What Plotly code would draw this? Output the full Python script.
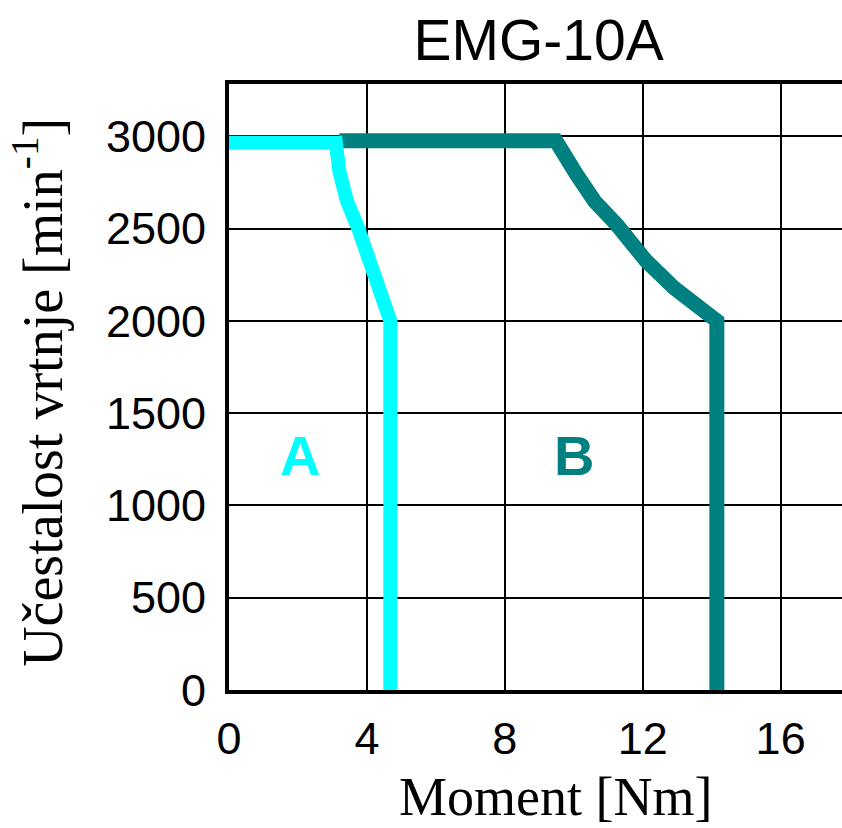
import plotly.graph_objects as go

# Curve A (cyan)
a_torque = [0, 3.1, 3.2, 3.42, 3.75, 4.08, 4.35, 4.68, 4.68]
a_speed = [2965, 2965, 2810, 2649, 2500, 2324, 2180, 2000, 0]
# Curve B (teal)
b_torque = [3.2, 9.48, 10.08, 10.6, 11.26, 12.1, 12.9, 14.15, 14.15]
b_speed = [2975, 2975, 2793, 2649, 2518, 2324, 2180, 2000, 0]

x_ticks = [0, 4, 8, 12, 16]
y_ticks = [0, 500, 1000, 1500, 2000, 2500, 3000]

title = "EMG-10A"
x_title = "Moment [Nm]"
y_title = "Učestalost vrtnje [min<sup>-1</sup>]"
label_a = ("A", 2.06, 1269)
label_b = ("B", 10.0, 1269)

CYAN = "#00FFFF"
TEAL = "#008080"
SANS = "Liberation Sans, Arial, sans-serif"
SERIF = "Liberation Serif, Times New Roman, serif"

fig = go.Figure()
fig.add_trace(go.Scatter(x=b_torque, y=b_speed, mode="lines",
                         line=dict(color=TEAL, width=15), showlegend=False))
fig.add_trace(go.Scatter(x=a_torque, y=a_speed, mode="lines",
                         line=dict(color=CYAN, width=14), showlegend=False))

for txt, xv, yv, col in [(label_a[0], label_a[1], label_a[2], CYAN),
                         (label_b[0], label_b[1], label_b[2], TEAL)]:
    fig.add_annotation(x=xv, y=yv, text=f"<b>{txt}</b>", showarrow=False,
                       xanchor="center", yanchor="middle",
                       font=dict(family=SANS, size=56, color=col))

fig.add_annotation(xref="paper", yref="paper", x=0.532, y=-0.176, text=x_title,
                   showarrow=False, xanchor="center", yanchor="middle",
                   font=dict(family=SERIF, size=54, color="black"))
fig.add_annotation(xref="paper", yref="paper", x=-0.31, y=0.492, text=y_title,
                   textangle=-90, showarrow=False, xanchor="center", yanchor="middle",
                   font=dict(family=SERIF, size=56, color="black"))

fig.update_layout(
    width=842, height=828,
    margin=dict(l=229, r=0, t=84, b=138),
    paper_bgcolor="white", plot_bgcolor="white",
    title=dict(text=title, x=0.505, xref="paper", xanchor="center",
               y=1 - 40 / 828, yref="container", yanchor="middle",
               font=dict(family=SANS, size=57, color="black")),
    xaxis=dict(range=[0, 17.78], tickvals=x_ticks, ticks="",
               showgrid=True, gridcolor="black", gridwidth=1.5,
               showline=True, linecolor="black", linewidth=4, mirror=True,
               zeroline=False, ticklabelstandoff=6,
               tickfont=dict(family=SANS, size=45, color="black")),
    yaxis=dict(range=[0, 3283], tickvals=y_ticks, ticks="",
               showgrid=True, gridcolor="black", gridwidth=1.5,
               showline=True, linecolor="black", linewidth=4,
               zeroline=False, ticklabelstandoff=10,
               tickfont=dict(family=SANS, size=45, color="black")),
)

fig.write_html("out.html", config={"displayModeBar": False},
               post_script="document.body.style.margin='0';document.body.style.overflow='hidden';")
